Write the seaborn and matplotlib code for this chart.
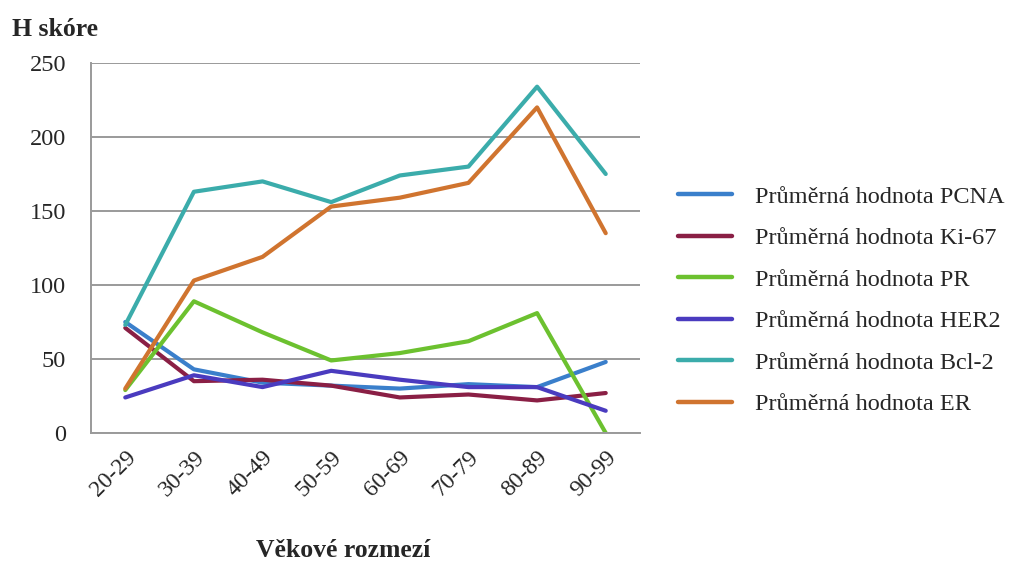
import matplotlib
matplotlib.use("Agg")
import matplotlib.pyplot as plt
import seaborn as sns
import pandas as pd
import numpy as np

# Age groups and mean H-scores per marker
age_groups = ["20-29", "30-39", "40-49", "50-59", "60-69", "70-79", "80-89", "90-99"]
pcna = [75, 43, 34, 32, 30, 33, 31, 48]
ki67 = [71, 35, 36, 32, 24, 26, 22, 27]
pr = [29, 89, 68, 49, 54, 62, 81, 0]
her2 = [24, 39, 31, 42, 36, 31, 31, 15]
bcl2 = [73, 163, 170, 156, 174, 180, 234, 175]
er = [30, 103, 119, 153, 159, 169, 220, 135]

series_names = [
    "Průměrná hodnota PCNA",
    "Průměrná hodnota Ki-67",
    "Průměrná hodnota PR",
    "Průměrná hodnota HER2",
    "Průměrná hodnota Bcl-2",
    "Průměrná hodnota ER",
]
series_values = [pcna, ki67, pr, her2, bcl2, er]
colors = ["#3a7fcb", "#8a1f45", "#6cc12f", "#4a3bbf", "#3bacab", "#d0742f"]
y_ticks = [0, 50, 100, 150, 200, 250]

rows = []
for name, vals in zip(series_names, series_values):
    for i, (g, v) in enumerate(zip(age_groups, vals)):
        rows.append({"pos": i, "Věková skupina": g, "Série": name, "H skóre": v})
df = pd.DataFrame(rows)

sns.set_theme(style="white")
plt.rcParams["font.family"] = ["Liberation Serif", "DejaVu Serif"]

fig = plt.figure(figsize=(10.14, 5.61), dpi=100)
ax = fig.add_axes([0.0897, 0.2282, 0.5415, 0.6595])

sns.lineplot(
    data=df, x="pos", y="H skóre", hue="Série", hue_order=series_names,
    palette=colors, linewidth=3.0, ax=ax, legend=True, sort=False,
)

grid_color = "#9a9a9a"
ax.set_ylim(0, 250)
ax.set_yticks(y_ticks)
ax.set_yticklabels([str(t) for t in y_ticks], fontsize=17.5)
ax.yaxis.grid(True, color=grid_color, linewidth=1.4)
ax.set_axisbelow(True)

ax.set_xlim(-0.5, len(age_groups) - 0.5)
ax.set_xticks(range(len(age_groups)))
ax.set_xticklabels(age_groups, rotation=45, ha="right", rotation_mode="anchor", fontsize=17)
ax.set_xticks(np.arange(-0.5, len(age_groups), 1.0), minor=True)
ax.tick_params(axis="x", which="major", length=0, pad=10)
ax.tick_params(axis="x", which="minor", length=6, color=grid_color, width=1.4, direction="out")
ax.tick_params(axis="y", which="major", length=6, color=grid_color, width=1.4, direction="out", pad=12)

for side in ["top", "right"]:
    ax.spines[side].set_visible(False)
for side in ["left", "bottom"]:
    ax.spines[side].set_color(grid_color)
    ax.spines[side].set_linewidth(1.4)

ax.set_xlabel("")
ax.set_ylabel("")

handles, labels = ax.get_legend_handles_labels()
ax.get_legend().remove()
leg = fig.legend(
    handles, labels,
    loc="center left", bbox_to_anchor=(0.6686, 0.4643), bbox_transform=fig.transFigure,
    frameon=False, fontsize=17.5, handlelength=2.22, handletextpad=0.95,
    labelspacing=0.8, borderpad=0, borderaxespad=0,
)
for line in leg.get_lines():
    line.set_linewidth(3.2)

fig.text(0.012, 0.948, "H skóre", fontsize=18.5, fontweight="bold", ha="left", va="center")
fig.text(0.338, 0.019, "Věkové rozmezí", fontsize=18.5, fontweight="bold", ha="center", va="center")

fig.savefig("out.png", dpi=100, facecolor="white")
